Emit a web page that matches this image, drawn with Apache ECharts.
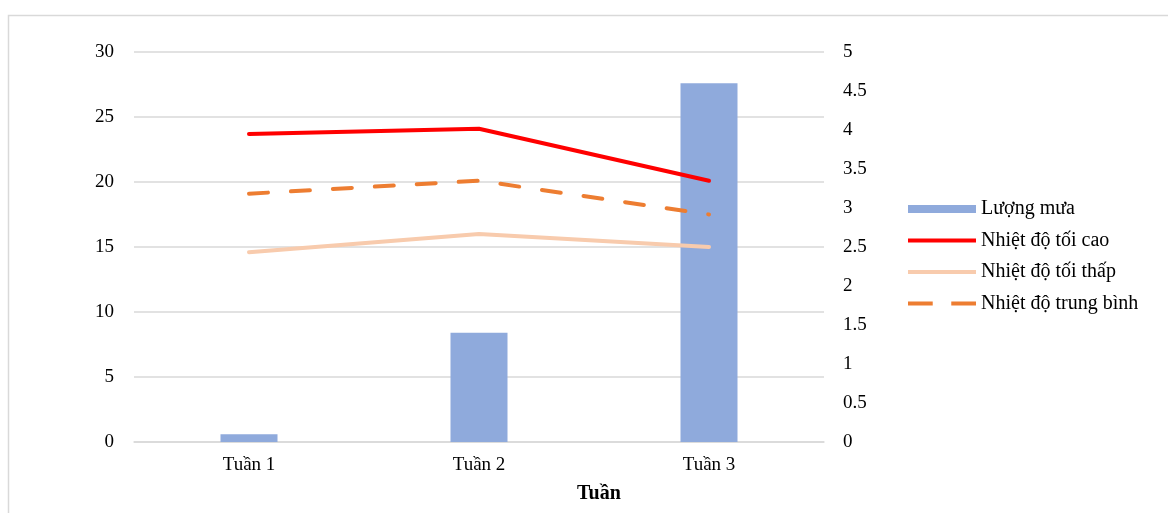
<!DOCTYPE html>
<html>
<head>
<meta charset="utf-8">
<script src="https://cdn.jsdelivr.net/npm/echarts@6/dist/echarts.min.js"></script>
<style>html,body{margin:0;padding:0;background:#fff}#c{width:1168px;height:513px}</style>
</head>
<body>
<div id="c"></div>
<script>
var categories = ['Tuần 1', 'Tuần 2', 'Tuần 3'];
var rainfall = [0.1, 1.4, 4.6];
var maxTemp = [23.7, 24.1, 20.1];
var minTemp = [14.6, 16.0, 15.0];
var avgTemp = [19.1, 20.1, 17.5];
var seriesNames = ['Lượng mưa', 'Nhiệt độ tối cao', 'Nhiệt độ tối thấp', 'Nhiệt độ trung bình'];
var xAxisTitle = 'Tuần';

var FONT = '"Liberation Serif", "DejaVu Serif", serif';
var chart = echarts.init(document.getElementById('c'), null, {renderer: 'canvas'});
chart.setOption({
  animation: false,
  backgroundColor: '#ffffff',
  textStyle: {fontFamily: FONT},
  graphic: [
    {type: 'rect', shape: {x: 8.5, y: 15.5, width: 1300, height: 700}, style: {fill: 'none', stroke: '#d9d9d9', lineWidth: 1.5}, silent: true, z: -10},
    {type: 'text', left: 577, top: 484, style: {text: xAxisTitle, font: 'bold 20px ' + FONT, fill: '#000'}}
  ],
  grid: {left: 134, right: 344, top: 52, bottom: 71, containLabel: false},
  legend: {
    orient: 'vertical', left: 908, top: 199, padding: 0,
    itemWidth: 68, itemHeight: 14, itemGap: 11.5,
    textStyle: {fontFamily: FONT, fontSize: 20, color: '#000', lineHeight: 20},
    data: [
      {name: seriesNames[0], icon: 'path://M0,0h68v8h-68z'},
      {name: seriesNames[1], icon: 'path://M0,0h68v4h-68z'},
      {name: seriesNames[2], icon: 'path://M0,0h68v4h-68z'},
      {name: seriesNames[3], icon: 'path://M0,0h24v4h-24z M42,0h24v4h-24z'}
    ]
  },
  xAxis: {
    type: 'category', data: categories,
    axisLine: {lineStyle: {color: '#d9d9d9', width: 1.5}},
    axisTick: {show: false},
    axisLabel: {fontFamily: FONT, fontSize: 19, color: '#000', margin: 14}
  },
  yAxis: [
    {type: 'value', min: 0, max: 30, interval: 5,
     axisLine: {show: false}, axisTick: {show: false},
     splitLine: {lineStyle: {color: '#d9d9d9', width: 1.5}},
     axisLabel: {fontFamily: FONT, fontSize: 19, color: '#000', margin: 20}},
    {type: 'value', min: 0, max: 5, interval: 0.5,
     axisLine: {show: false}, axisTick: {show: false},
     splitLine: {show: false},
     axisLabel: {fontFamily: FONT, fontSize: 19, color: '#000', margin: 19}}
  ],
  series: [
    {name: seriesNames[0], type: 'bar', yAxisIndex: 1, data: rainfall, barWidth: 57,
     itemStyle: {color: '#8faadc'}, z: 1},
    {name: seriesNames[1], type: 'line', yAxisIndex: 0, data: maxTemp, symbol: 'none',
     lineStyle: {color: '#ff0000', width: 4, cap: 'round'}, itemStyle: {color: '#ff0000'}, z: 5},
    {name: seriesNames[2], type: 'line', yAxisIndex: 0, data: minTemp, symbol: 'none',
     lineStyle: {color: '#f8cbad', width: 4, cap: 'round'}, itemStyle: {color: '#f8cbad'}, z: 4},
    {name: seriesNames[3], type: 'line', yAxisIndex: 0, data: avgTemp, symbol: 'none',
     lineStyle: {color: '#ed7d31', width: 4, type: [19, 23], cap: 'round'}, itemStyle: {color: '#ed7d31'}, z: 4}
  ]
});
</script>
</body>
</html>
